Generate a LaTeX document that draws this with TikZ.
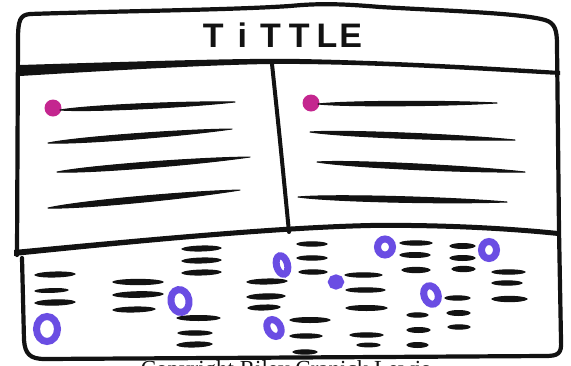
\documentclass[tikz,border=0pt]{standalone}
\usepackage{fontspec}
\setmainfont{Liberation Serif}
\newfontfamily\titlefont{Liberation Sans}
\usetikzlibrary{calc}
\definecolor{ink}{HTML}{121212}
\definecolor{dotmag}{HTML}{C4268F}
\definecolor{ovalblue}{HTML}{6A4DE3}
\tikzset{
  frame/.style={draw=ink, line width=4.2pt, line cap=round, line join=round},
  oval/.style={draw=ovalblue, line width=7pt},
  mdot/.style={circle, fill=dotmag, inner sep=0pt, minimum size=17pt},
  titletext/.style={font=\titlefont\bfseries\fontsize{34}{38}\selectfont, text=ink, inner sep=0pt, anchor=base},
  copytext/.style={font=\fontsize{23}{26}\selectfont, text=ink, inner sep=0pt, anchor=base}
}
% hand-drawn stroke: start, end, bulge
\newcommand\sk[3]{\filldraw[ink, line width=1.2pt, line cap=round, line join=round] (#1) .. controls ($(#1)!0.12!(#2)+(0,#3)$) and ($(#1)!0.88!(#2)+(0,#3)$) .. (#2) .. controls ($(#1)!0.88!(#2)-(0,#3)$) and ($(#1)!0.12!(#2)-(0,#3)$) .. (#1) -- cycle;}
% brush stroke (column lines), fuller near the start
\newcommand\br[3]{\filldraw[ink, line width=1pt, line cap=round, line join=round] (#1) .. controls ($(#1)!0.15!(#2)+(0,#3)$) and ($(#1)!0.7!(#2)+(0,#3)$) .. (#2) .. controls ($(#1)!0.7!(#2)-(0,#3)$) and ($(#1)!0.15!(#2)-(0,#3)$) .. (#1) -- cycle;}
\begin{document}
\begin{tikzpicture}[x=1pt,y=-1pt]
\useasboundingbox (0,0) rectangle (571,365);
\fill[white] (0,0) rectangle (571,365);

% outer frame
\draw[frame] (17,255) -- (18,40) .. controls (18,20) and (20,15) .. (30,14)
  .. controls (120,11) and (230,10) .. (290,6) .. controls (320,3) and (345,4) .. (380,7)
  .. controls (450,11) and (520,13) .. (545,20) .. controls (555,23) and (557,30) .. (557,45)
  -- (559,230) -- (561,340) .. controls (562,354) and (558,356) .. (545,356)
  -- (45,359) .. controls (30,359) and (25,354) .. (24,340) -- (22,258);

% title separator
\fill[ink] (20,65) .. controls (150,61) and (250,58) .. (300,59) .. controls (400,61) and (500,67) .. (560,71)
  -- (560,75) .. controls (500,72) and (400,65) .. (300,64) .. controls (250,63) and (150,68) .. (20,76) -- cycle;

% middle separator
\fill[ink] (14,250) .. controls (150,237) and (280,225) .. (370,223) .. controls (450,222) and (520,227) .. (558,231)
  -- (558,236) .. controls (520,232) and (450,227) .. (370,228) .. controls (280,230) and (150,242) .. (14,256) -- cycle;

% column divider
\draw[frame, line width=4pt] (272,64) .. controls (280,140) .. (289,232);

% title
\node[titletext] (title) at (282.5,47) {T\kern14pt i\kern13pt T\kern8pt T\kern7pt L\kern2pt E};

% left column
\node[mdot] (dotL) at (53,108) {};
\br{60,110}{235,102}{3.4}
\br{48,143}{232,129}{3.6}
\br{57,172}{250,157}{3.8}
\br{48,208}{240,190}{4}

% right column
\node[mdot] (dotR) at (311,103) {};
\br{318,104}{497,103}{3.0}
\br{310,132}{515,140}{3.6}
\br{317,162}{525,172}{3.8}
\br{298,197}{507,202}{3.8}

% bottom dashes
\sk{35,275}{75,274}{3.2}  \sk{35,291}{68,290}{2.4}  \sk{35,303}{75,302}{3.4}
\sk{113,282}{163,282}{3.4} \sk{113,295}{163,294}{3.6} \sk{113,310}{155,309}{3.2}
\sk{182,249}{221,248}{3.2} \sk{182,261}{221,260}{3.2} \sk{182,273}{221,272}{3.2}
\sk{177,318}{220,318}{3.2} \sk{178,333}{212,333}{2.8} \sk{177,345}{212,344}{3.2}
\sk{247,282}{287,281}{3.2} \sk{247,297}{285,296}{3.4} \sk{248,308}{280,307}{3.2}
\sk{297,244}{327,244}{2.8} \sk{297,258}{327,258}{2.8} \sk{299,272}{327,272}{2.8}
\sk{345,275}{382,275}{2.8} \sk{346,290}{385,290}{2.8} \sk{346,308}{387,308}{3.2}
\sk{290,320}{330,320}{3.2} \sk{290,336}{322,336}{2.8} \sk{293,352}{317,352}{2.8}
\sk{350,335}{383,335}{2.8} \sk{357,345}{380,345}{2.4}
\sk{400,243}{432,243}{2.8} \sk{400,255}{430,255}{3.2} \sk{402,270}{430,270}{3.4}
\sk{450,246}{475,246}{3.2} \sk{450,258}{475,258}{3.2} \sk{452,269}{475,269}{3.4}
\sk{492,272}{525,272}{2.8} \sk{492,283}{522,283}{2.8} \sk{492,299}{527,299}{3.4}
\sk{445,298}{470,298}{2.8} \sk{447,313}{470,313}{3.2} \sk{448,327}{470,327}{2.8}
\sk{407,315}{428,315}{2.8} \sk{407,330}{430,330}{3.2} \sk{407,345}{428,345}{3.2}

% blue ovals
\draw[oval] (47,329) ellipse (10.5 and 12.5);
\draw[oval, rotate around={10:(180,301)}] (180,301) ellipse (9 and 11.5);
\draw[oval, rotate around={15:(282,265)}] (282,265) ellipse (5.5 and 9.5);
\draw[oval, rotate around={30:(274,328)}] (274,328) ellipse (6.5 and 9);
\draw[oval] (336,282) ellipse (4.5 and 4);
\draw[oval] (385,247) ellipse (7.5 and 8);
\draw[oval] (489,250) ellipse (7.5 and 8.5);
\draw[oval, rotate around={20:(431,295)}] (431,295) ellipse (7 and 9.5);

% copyright line (cut off by the page edge, as in the reference)
\node[copytext] (copy) at (285.5,376) {Copyright Riley Cranick Lewis};
\end{tikzpicture}
\end{document}
